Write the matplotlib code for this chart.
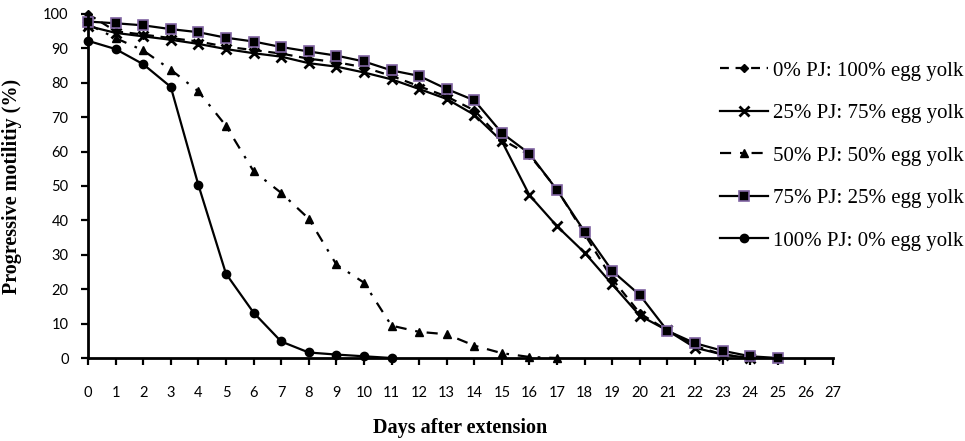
import matplotlib
matplotlib.use('Agg')
import matplotlib.pyplot as plt

# progressive motility (%) per day after extension, one list per extender
days_pj0 = list(range(0, 25))
pj0 = [100, 95, 94, 93, 92, 90.5, 89.5, 88.5, 87, 86, 84.5, 82, 79, 76, 72,
       63.5, 59, 49, 36, 23, 13, 8, 3.5, 1, 0]

days_pj25 = list(range(0, 25))
pj25 = [96.5, 94.5, 93.5, 92.5, 91.3, 89.8, 88.6, 87.6, 85.7, 84.7, 83, 81,
        78.2, 75.3, 70.7, 63, 47.3, 38.3, 30.6, 21.4, 12.3, 8, 3, 1, 0]

days_pj50 = list(range(0, 18))
pj50 = [97, 93, 89.4, 83.8, 77.5, 67.5, 54.3, 48, 40.5, 27.2, 21.9, 9.4,
        7.6, 6.9, 3.6, 1.4, 0.3, 0]

days_pj75 = list(range(0, 26))
pj75 = [97.8, 97.3, 96.7, 95.6, 94.7, 93.1, 92, 90.4, 89.1, 87.9, 86.2, 83.6,
        82, 78.2, 74.9, 65.4, 59.4, 48.8, 36.7, 25.3, 18.3, 7.9, 4.3, 2.1, 0.5, 0]

days_pj100 = list(range(0, 12))
pj100 = [92.2, 89.8, 85.4, 78.8, 50.3, 24.5, 13.2, 4.8, 1.6, 1.0, 0.5, 0]

labels = ['0% PJ: 100% egg yolk', '25% PJ: 75% egg yolk', '50% PJ: 50% egg yolk',
          '75% PJ: 25% egg yolk', '100% PJ: 0% egg yolk']
x_ticks = list(range(0, 28))
y_ticks = list(range(0, 101, 10))

fig = plt.figure(figsize=(9.65, 4.41), dpi=100)
ax = fig.add_axes([0.0912, 0.1882, 0.772, 0.7801])

lw = 1.6
ax.plot(days_pj0, pj0, color='black', lw=lw, dashes=(4, 3), marker='D', ms=4.5,
        label=labels[0], clip_on=False)
ax.plot(days_pj25, pj25, color='black', lw=lw, marker='x', ms=6.5, mew=2,
        label=labels[1], clip_on=False)
ax.plot(days_pj50, pj50, color='black', lw=lw, dashes=(5, 4, 1.2, 4), marker='^', ms=5.5,
        label=labels[2], clip_on=False)
ax.plot(days_pj75, pj75, color='black', lw=lw, marker='s', ms=6.5, mfc='black',
        mec='#8064a2', mew=1.2, label=labels[3], clip_on=False)
ax.plot(days_pj100, pj100, color='black', lw=lw, marker='o', ms=6,
        label=labels[4], clip_on=False)

ax.set_xlim(0, 27)
ax.set_ylim(0, 100)
ax.set_xticks(x_ticks)
ax.set_yticks(y_ticks)
for lab in ax.get_xticklabels() + ax.get_yticklabels():
    lab.set_family('Lato')
    lab.set_fontsize(10.5)
ax.tick_params(axis='both', direction='out', length=5, width=1.6, color='black')
ax.tick_params(axis='x', pad=15)
ax.tick_params(axis='y', pad=9)

for side in ['top', 'right']:
    ax.spines[side].set_visible(False)
for side in ['left', 'bottom']:
    ax.spines[side].set_linewidth(2)

ax.set_xlabel('Days after extension', family='Liberation Serif', weight='bold', fontsize=14.5)
ax.set_ylabel('Progressive motilitiy (%)', family='Liberation Serif', weight='bold', fontsize=14.5)
ax.xaxis.set_label_coords(0.5, -0.175)
ax.yaxis.set_label_coords(-0.089, 0.5)

fig.legend(loc='upper left', bbox_to_anchor=(720 / 965, 1 - 61 / 441), frameon=False,
           prop={'family': 'Liberation Serif', 'size': 15}, handlelength=2.3,
           handletextpad=0.25, labelspacing=1.1, borderaxespad=0, borderpad=0)

fig.savefig('out.png', dpi=100)
